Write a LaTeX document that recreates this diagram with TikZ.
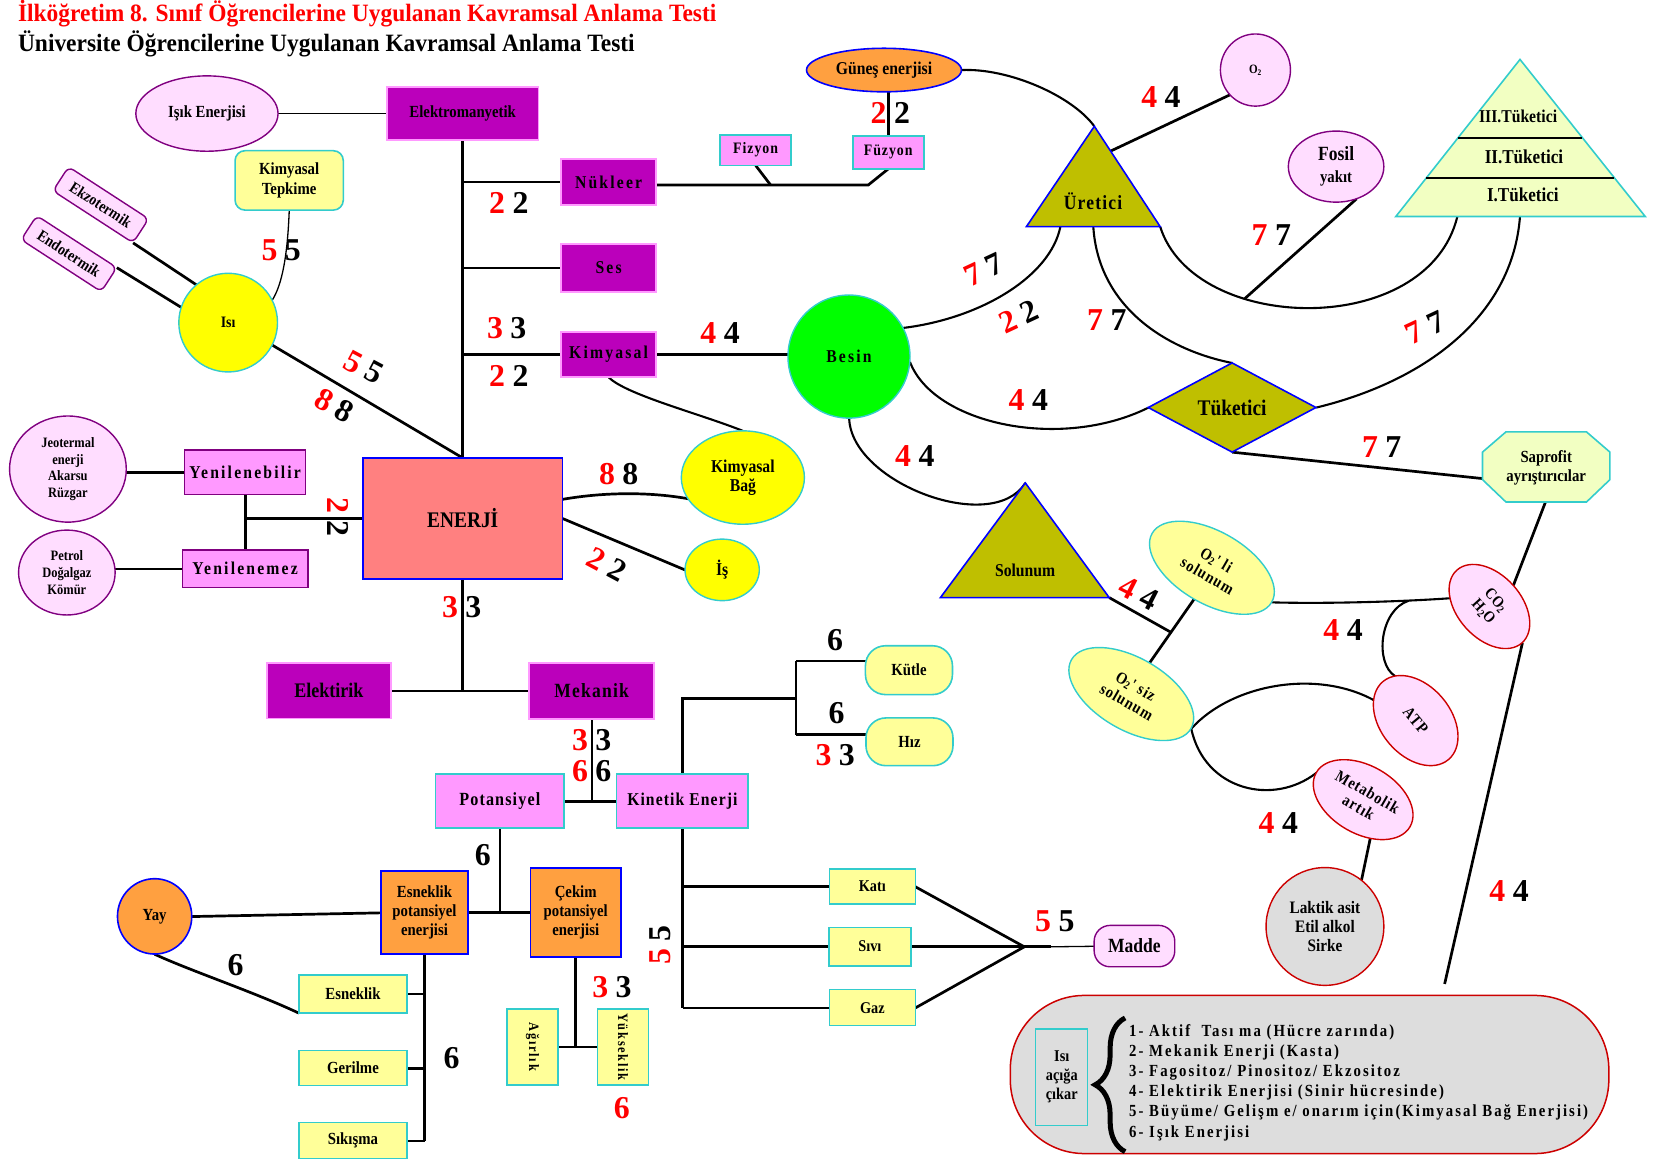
\documentclass[tikz,border=0pt]{standalone}
\usepackage{fontspec}
\setmainfont{Liberation Serif}[FakeStretch=0.87]
\newfontfamily\spc{Liberation Serif}[FakeStretch=0.87,LetterSpace=6]
\newfontfamily\spb{Liberation Serif}[FakeStretch=0.87,LetterSpace=12]
\newfontfamily\titf{Liberation Serif}[FakeStretch=0.94]
\newfontfamily\numf{Liberation Serif}
\usetikzlibrary{shapes.geometric,decorations.pathreplacing,backgrounds}
\definecolor{cPurp}{HTML}{BB00BB}
\definecolor{cPinkE}{HTML}{FF99FF}
\definecolor{cPink}{HTML}{FF99FF}
\definecolor{cTeal}{HTML}{33CCCC}
\definecolor{cLPink}{HTML}{FFDDFF}
\definecolor{cPurpE}{HTML}{800080}
\definecolor{cLYel}{HTML}{FFFF99}
\definecolor{cPale}{HTML}{F2FFC2}
\definecolor{cOlive}{HTML}{BFBF00}
\definecolor{cOrange}{HTML}{FFA040}
\definecolor{cSalmon}{HTML}{FF8080}
\definecolor{cGray}{HTML}{DDDDDD}
\definecolor{cDRed}{HTML}{CC0000}
\definecolor{cGreen}{HTML}{00FF00}
\definecolor{cBlue}{HTML}{0000FF}
\definecolor{cRed}{HTML}{FF0000}
\definecolor{cYel}{HTML}{FFFF00}
\newcommand\fz[1]{\fontsize{#1}{#1}\selectfont}
\newcommand\fzb[2]{\fontsize{#1}{#2}\selectfont}
\newcommand\np[2]{\textcolor{cRed}{#1}\hspace{7pt}#2}
\begin{document}
\begin{tikzpicture}[x=1pt,y=-1pt,scale=1.0612,
  every node/.style={transform shape, inner sep=0pt, outer sep=0pt, font=\bfseries, text=black},
  conn/.style={line width=2.7pt},
  curv/.style={line width=2.1pt},
  thinc/.style={line width=1.3pt},
  purpbox/.style={rectangle, draw=cPinkE, fill=cPurp, line width=1.8pt, font=\spb\bfseries\fz{17}},
  pinkbox/.style={rectangle, draw=cTeal, fill=cPink, line width=1.6pt, font=\spc\bfseries\fz{17}},
  pinkpbox/.style={rectangle, draw=cPurpE, fill=cPink, line width=1.6pt, font=\spb\bfseries\fz{17}},
  ylbox/.style={rectangle, draw=cTeal, fill=cLYel, line width=1.6pt, font=\bfseries\fz{15.5}},
  lpell/.style={ellipse, draw=cPurpE, fill=cLPink, line width=1.4pt},
  yell/.style={ellipse, draw=cTeal, fill=cYel, line width=1.4pt},
  lyell/.style={ellipse, draw=cTeal, fill=cLYel, line width=1.4pt},
  rpell/.style={ellipse, draw=cDRed, fill=cLPink, line width=1.4pt},
  orng/.style={draw=cBlue, fill=cOrange, line width=1.6pt},
  ekz/.style={rectangle, rounded corners=6, draw=cPurpE, fill=cLPink, line width=1.4pt, rotate=-33, minimum width=90, minimum height=27, font=\bfseries\fz{15}},
  numl/.style={font=\numf\bfseries\fz{30}},
  tri/.style={draw=cBlue, fill=cOlive, line width=1.6pt},
]
\useasboundingbox (0,0) rectangle (1568,1100);

% titles
\node[anchor=base west, font=\titf\bfseries\fz{23.5}, text=cRed] (title1) at (17,20.5) {İlköğretim 8. Sınıf Öğrencilerine Uygulanan Kavramsal Anlama Testi};
\node[anchor=base west, font=\titf\bfseries\fz{23.5}] (title2) at (17,48.5) {Üniversite Öğrencilerine Uygulanan Kavramsal Anlama Testi};

% upper left
\node[lpell, minimum width=134, minimum height=71, font=\bfseries\fz{16}] (isik) at (195,107) {Işık Enerjisi};
\node[purpbox, minimum width=143, minimum height=50, font=\bfseries\fz{16}] (elektro) at (436,107) {Elektromanyetik};
\node[ylbox, rounded corners=10, minimum width=102, minimum height=56, align=center, font=\bfseries\fzb{16}{19}] (kimtep) at (272.5,170) {Kimyasal\\Tepkime};
\node[ekz] (ekzo) at (95,193) {Ekzotermik};
\node[ekz] (endo) at (65,239) {Endotermik};
\node[yell, minimum width=93, minimum height=93, font=\bfseries\fz{15}] (isi) at (215,304) {Isı};

\node[purpbox, minimum width=90, minimum height=43] (nukleer) at (573.5,171.5) {Nükleer};
\node[purpbox, minimum width=90, minimum height=45] (ses) at (573.5,252.5) {Ses};
\node[purpbox, minimum width=90, minimum height=43] (kimyasal) at (573.5,334) {Kimyasal};
\node[pinkbox, minimum width=67, minimum height=29, font=\spc\bfseries\fz{15}] (fizyon) at (712,141.5) {Fizyon};
\node[pinkbox, minimum width=67, minimum height=31, font=\spc\bfseries\fz{15}] (fuzyon) at (837,143.5) {Füzyon};
\node[ellipse, orng, minimum width=146, minimum height=41, font=\bfseries\fz{17}] (gunes) at (833,66) {Güneş enerjisi};
\node[lpell, minimum width=66, minimum height=68, font=\bfseries\fz{12}] (o2) at (1183,66) {O\textsubscript{2}};

% Uretici triangle
\coordinate (urT) at (1031,119);
\coordinate (urL) at (967,213.5);
\coordinate (urR) at (1093,213.5);
\coordinate (urB) at (1030,213.5);
\coordinate (urBL) at (999,213.5);
\coordinate (urE) at (1046,142.5);
\filldraw[tri] (urT) -- (urR) -- (urL) -- cycle;
\node[font=\spc\bfseries\fz{19}] (uretici) at (1030,190) {Üretici};

\node[lpell, minimum width=90, minimum height=67, align=center, font=\bfseries\fzb{16}{21}] (fosil) at (1259,157) {{\fz{19}Fosil}\\yakıt};

% pyramid
\coordinate (pyT) at (1432,56);
\coordinate (pyL) at (1315,204);
\coordinate (pyR) at (1550,204);
\coordinate (pyA) at (1373,204);
\coordinate (pyB) at (1432,204);
\filldraw[draw=cTeal, fill=cPale, line width=1.6pt] (pyT) -- (pyR) -- (pyL) -- cycle;
\draw[line width=1.6pt] (1373.5,130) -- (1491,130);
\draw[line width=1.6pt] (1344,167.5) -- (1521,167.5);
\node[font=\bfseries\fz{17}] (t3) at (1430.5,109.5) {III.Tüketici};
\node[font=\bfseries\fz{18.5}] (t2) at (1436,147.5) {II.Tüketici};
\node[font=\bfseries\fz{18.5}] (t1) at (1435,184) {I.Tüketici};

\node[ellipse, draw=cTeal, fill=cGreen, line width=1.4pt, minimum width=115, minimum height=116, font=\spb\bfseries\fz{17}] (besin) at (800,336) {Besin};
\node[diamond, tri, minimum width=158, minimum height=84, font=\bfseries\fz{21}] (tuketici) at (1161,384) {Tüketici};

% Saprofit octagon
\filldraw[draw=cTeal, fill=cPale, line width=1.6pt] (1419,407) -- (1495,407) -- (1517,426) -- (1517,452) -- (1495,473) -- (1419,473) -- (1397,452) -- (1397,426) -- cycle;
\node[align=center, font=\bfseries\fzb{16}{18}] (saprofit) at (1457,441) {Saprofit\\ayrıştırıcılar};
\coordinate (spL) at (1398,451);
\coordinate (spB) at (1456,473);

% Solunum triangle
\coordinate (soT) at (966,455);
\coordinate (soL) at (886,563);
\coordinate (soR) at (1045,563);
\filldraw[tri] (soT) -- (soR) -- (soL) -- cycle;
\node[font=\bfseries\fz{17}] (solunum) at (966,537) {Solunum};

\node[lyell, rotate=-30, minimum width=130, minimum height=68, align=center, font=\spc\bfseries\fzb{15.5}{17}] (o2li) at (1142,535) {O\textsubscript{2}' li\\solunum};
\node[lyell, rotate=-30, minimum width=130, minimum height=68, align=center, font=\spc\bfseries\fzb{15.5}{17}] (o2siz) at (1066,654) {O\textsubscript{2}' siz\\solunum};
\node[rpell, rotate=-48, minimum width=92, minimum height=60, align=center, font=\bfseries\fzb{15}{16}] (co2) at (1403.5,571.5) {CO\textsubscript{2}\\H\textsubscript{2}O};
\node[rpell, rotate=-50, minimum width=96, minimum height=66, font=\spc\bfseries\fz{15.5}] (atp) at (1334,679) {ATP};
\node[rpell, rotate=-30, minimum width=102, minimum height=64, align=center, font=\spc\bfseries\fzb{15.5}{17}] (metab) at (1284.5,753.5) {Metabolik\\artık};
\node[ellipse, draw=cDRed, fill=cGray, line width=1.4pt, minimum width=111, minimum height=111, align=center, font=\bfseries\fzb{16.5}{18}] (laktik) at (1248.5,873) {Laktik asit\\Etil alkol\\Sirke};

% legend
\node[rectangle, rounded corners=74, draw=cDRed, fill=cGray, line width=1.5pt, minimum width=564, minimum height=149] (legend) at (1234,1012.5) {};
\node[rectangle, draw=cTeal, line width=1.4pt, minimum width=49, minimum height=91, align=center, font=\bfseries\fzb{15.5}{18}] (isiacik) at (1000.5,1015) {Isı\\açığa\\çıkar};
\coordinate (brB) at (1060,1085);
\coordinate (brT) at (1060,959);
\draw[decorate, decoration={brace, amplitude=30pt}, line width=5pt] (brB) -- (brT);
\node[anchor=west, align=left, font=\spb\bfseries\fzb{16}{19}] (legtext) at (1064,1020) {1- Aktif~ Tası ma (Hücre zarında)\\2- Mekanik Enerji (Kasta)\\3- Fagositoz/ Pinositoz/ Ekzositoz\\4- Elektirik Enerjisi (Sinir hücresinde)\\5- Büyüme/ Gelişm e/ onarım için(Kimyasal Bağ Enerjisi)\\6- Işık Enerjisi};

% middle left
\node[rectangle, draw=cBlue, fill=cSalmon, line width=1.6pt, minimum width=188, minimum height=114, font=\bfseries\fz{21}] (enerji) at (436,488.5) {ENERJİ};
\node[yell, minimum width=116, minimum height=88, align=center, font=\bfseries\fzb{17}{18.5}] (kimbag) at (700,450) {Kimyasal\\Bağ};
\node[yell, minimum width=70, minimum height=58, font=\bfseries\fz{17}] (is) at (680.5,537) {İş};
\node[pinkpbox, minimum width=114, minimum height=42] (yenil) at (231,445) {Yenilenebilir};
\node[pinkpbox, minimum width=118, minimum height=35] (yenem) at (231,536) {Yenilenemez};
\node[lpell, minimum width=110, minimum height=100, align=center, font=\bfseries\fzb{13.5}{15.7}] (jeo) at (64,442) {Jeotermal\\enerji\\Akarsu\\Rüzgar};
\node[lpell, minimum width=91, minimum height=80, align=center, font=\bfseries\fzb{13.5}{16.3}] (petrol) at (63,539.5) {Petrol\\Doğalgaz\\Kömür};
\node[purpbox, minimum width=117, minimum height=52, font=\bfseries\fz{19.5}] (elektirik) at (310,651) {Elektirik};
\node[purpbox, minimum width=118, minimum height=53, font=\spc\bfseries\fz{19}] (mekanik) at (557.6,651) {Mekanik};
\node[pinkbox, minimum width=121, minimum height=51, font=\spc\bfseries\fz{17.5}] (potansiyel) at (471,755) {Potansiyel};
\node[pinkbox, minimum width=124, minimum height=51, font=\spc\bfseries\fz{17}] (kinetik) at (643,755) {Kinetik Enerji};
\node[ylbox, rounded corners=20, minimum width=82, minimum height=46, font=\bfseries\fz{16}] (kutle) at (856.5,631.5) {Kütle};
\node[ylbox, rounded corners=20, minimum width=82, minimum height=45, font=\bfseries\fz{16}] (hiz) at (857,699) {Hız};
\node[ylbox, minimum width=81, minimum height=33, font=\bfseries\fz{15.5}] (kati) at (822,835.5) {Katı};
\node[ylbox, minimum width=77, minimum height=36, font=\bfseries\fz{15.5}] (sivi) at (819.7,892) {Sıvı};
\node[ylbox, minimum width=81, minimum height=34, font=\bfseries\fz{15.5}] (gaz) at (822,949.5) {Gaz};
\node[rectangle, rounded corners=16, draw=cPurpE, fill=cLPink, line width=1.4pt, minimum width=76, minimum height=39, font=\bfseries\fz{19}] (madde) at (1069,891.5) {Madde};
\node[ellipse, orng, minimum width=70, minimum height=71, font=\bfseries\fz{16}] (yay) at (145.7,863.5) {Yay};
\node[rectangle, orng, minimum width=82, minimum height=78, align=center, font=\bfseries\fzb{16}{18}] (esnpot) at (400,860) {Esneklik\\potansiyel\\enerjisi};
\node[rectangle, orng, minimum width=85, minimum height=84, align=center, font=\bfseries\fzb{16}{18}] (cekpot) at (542.5,860) {Çekim\\potansiyel\\enerjisi};
\node[ylbox, minimum width=102, minimum height=36, font=\bfseries\fz{16}] (esneklik) at (332.6,936.5) {Esneklik};
\node[ylbox, minimum width=102, minimum height=33, font=\bfseries\fz{16}] (gerilme) at (332.6,1006.4) {Gerilme};
\node[ylbox, minimum width=102, minimum height=34, font=\bfseries\fz{16}] (sikisma) at (332.6,1074.8) {Sıkışma};
\node[ylbox, rotate=-90, minimum width=72, minimum height=48, font=\spb\bfseries\fz{13.5}] (agirlik) at (501.8,986.5) {Ağırlık};
\node[ylbox, rotate=-90, minimum width=72, minimum height=48, font=\spb\bfseries\fz{13.5}] (yukseklik) at (587,986.5) {Yükseklik};

% connectors
\begin{pgfonlayer}{background}
\draw[thinc] (isik.east) -- (elektro.west);
\draw[conn] (elektro.south) -- (enerji.north);
\draw[conn] (nukleer.west) -- (nukleer.west -| elektro.south);
\draw[conn] (ses.west) -- (ses.west -| elektro.south);
\draw[conn] (kimyasal.west) -- (kimyasal.west -| elektro.south);
\coordinate (fzJ) at (726,174.3);
\coordinate (fuJ) at (818,174.3);
\draw[conn] (nukleer.east |- fzJ) -- (fuJ) -- (fuzyon.south);
\draw[conn] (fizyon.south) -- (fzJ);
\draw[conn] (fuzyon.north) -- (fuzyon.north |- gunes.south);
\draw[conn] (kimyasal.east) -- (kimyasal.east -| besin.west);
\draw[curv] (kimyasal.south) .. controls (590,372) and (660,390) .. (kimbag.north);
\draw[thinc] (kimtep.south) .. controls (271,240) and (266,268) .. (isi.27);
\draw[conn] (ekzo.south east) -- (isi.130);
\draw[conn] (endo.north east) -- (isi.162);
\draw[conn] (isi.333) -- (enerji.north);
\coordinate (eK) at (527,471);
\draw[conn] (eK) .. controls (565,464) and (610,463) .. (kimbag.201);
\draw[conn] (enerji.east) -- (is.west);
\draw[conn] (yenil.west) -- (yenil.west -| jeo.east);
\draw[conn] (yenem.west) -- (yenem.west -| petrol.east);
\draw[conn] (yenil.south) -- (yenem.north);
\draw[conn] (enerji.west) -- (enerji.west -| yenil.south);
\draw[conn] (enerji.south) -- (enerji.south |- mekanik.west);
\draw[conn] (elektirik.east) -- (mekanik.west);
\draw[conn] (mekanik.south) -- (mekanik.south |- kinetik.west);
\draw[conn] (potansiyel.east) -- (kinetik.west);
\coordinate (kJ) at (750,658);
\coordinate (k1) at (750,622.6);
\coordinate (k2) at (750,692);
\draw[conn] (kinetik.north) |- (kJ);
\draw[conn] (k1) -- (k2);
\draw[conn] (k1) -- (k1 -| kutle.west);
\draw[conn] (k2) -- (k2 -| hiz.west);
\draw[conn] (kinetik.south) -- (kinetik.south |- gaz.west);
\draw[conn] (kati.west) -- (kati.west -| kinetik.south);
\draw[conn] (sivi.west) -- (sivi.west -| kinetik.south);
\draw[conn] (gaz.west) -- (gaz.west -| kinetik.south);
\coordinate (mJ) at (965,892);
\coordinate (mT) at (990,892);
\draw[conn] (kati.east) -- (mJ);
\draw[conn] (sivi.east) -- (mJ);
\draw[conn] (gaz.east) -- (mJ);
\draw[conn] (mJ) -- (mT);
\draw[thinc] (mT) -- (madde.west);
\draw[conn] (potansiyel.south) -- (potansiyel.south |- esnpot.east);
\draw[conn] (yay.east) -- (esnpot.west);
\draw[conn] (esnpot.east) -- (cekpot.west);
\draw[conn] (yay.south) .. controls (180,915) and (240,935) .. (esneklik.south west);
\draw[conn] (esnpot.south) -- (esnpot.south |- sikisma.east);
\draw[conn] (esneklik.east) -- (esneklik.east -| esnpot.south);
\draw[conn] (gerilme.east) -- (gerilme.east -| esnpot.south);
\draw[conn] (sikisma.east) -- (sikisma.east -| esnpot.south);
\draw[conn] (cekpot.south) -- (cekpot.south |- agirlik.center);
\draw[conn] (agirlik.north) -- (yukseklik.south);
% ecosystem part
\draw[curv] (gunes.east) .. controls (950,64) and (1010,90) .. (urT);
\draw[conn] (urE) -- (o2.224);
\draw[curv] (urR) .. controls (1125,315) and (1345,320) .. (pyA);
\coordinate (fJ) at (1172.4,281.6);
\draw[conn] (fosil.-58) -- (fJ);
\draw[curv] (urB) .. controls (1035,290) and (1100,330) .. (tuketici.north);
\draw[curv] (urBL) .. controls (990,260) and (925,300) .. (besin.28);
\draw[curv] (pyB) .. controls (1425,300) and (1340,360) .. (tuketici.east);
\draw[curv] (besin.-5) .. controls (880,400) and (1000,425) .. (tuketici.west);
\draw[curv] (besin.south) .. controls (802,455) and (935,505) .. (soT);
\draw[conn] (tuketici.south) -- (spL);
\draw[conn] (spB) -- (co2.north);
\coordinate (cEnd) at (1361,927);
\draw[conn] (co2.east) -- (cEnd);
\draw[conn] (o2li.south) -- coordinate[pos=0.52] (sj) (o2siz.north);
\draw[conn] (soR) -- (sj);
\coordinate (aj) at (1327,566);
\draw[curv] (o2li.east) .. controls (1250,569) and (1320,567) .. (co2.216);
\draw[curv] (aj) .. controls (1300,575) and (1295,625) .. (atp.165);
\draw[curv] (o2siz.east) .. controls (1160,645) and (1240,630) .. (atp.204);
\draw[curv] (o2siz.east) .. controls (1135,745) and (1200,760) .. (metab.west);
\draw[conn] (metab.310) -- (laktik.52);
\end{pgfonlayer}

% number labels
\node[numl] (n1) at (479.5,191) {\np22};
\node[numl] (n2) at (477.5,309) {\np33};
\node[numl] (n3) at (479.5,354) {\np22};
\node[numl] (n4) at (265,236) {\np55};
\node[numl, rotate=-28] (n5) at (343,346) {\np55};
\node[numl, rotate=-28] (n6) at (315,382) {\np88};
\node[numl, rotate=-90] (n7) at (318.8,487) {\np22};
\node[numl] (n8) at (583,447) {\np88};
\node[numl, rotate=-28] (n9) at (572,532) {\np22};
\node[numl] (n10) at (435,572) {\np33};
\node[numl] (n11) at (678.5,314) {\np44};
\node[numl] (n12) at (839,106.8) {\np22};
\node[numl] (n13) at (1094,91) {\np44};
\node[numl] (n14) at (1198,221.5) {\np77};
\node[numl, rotate=25] (n15) at (927,254) {\np77};
\node[numl, rotate=25] (n16) at (960,298) {\np22};
\node[numl] (n17) at (1043,301.5) {\np77};
\node[numl, rotate=25] (n18) at (1343,309) {\np77};
\node[numl] (n19) at (969,377) {\np44};
\node[numl] (n20) at (1302,421) {\np77};
\node[numl] (n21) at (862,430) {\np44};
\node[numl, rotate=-27] (n22) at (1073,559) {\np44};
\node[numl] (n23) at (1265.6,593.7) {\np44};
\node[numl] (n24) at (1204.6,776) {\np44};
\node[numl] (n25) at (1422,840) {\np44};
\node[numl] (n26) at (557.6,697) {\np33};
\node[numl] (n27) at (557.6,727) {\np66};
\node[numl] (n28) at (787,603) {6};
\node[numl] (n29) at (788.4,672) {6};
\node[numl] (n30) at (787,711.5) {\np33};
\node[numl, rotate=90] (n31) at (622,890.5) {\np55};
\node[numl] (n32) at (994,868.5) {\np55};
\node[numl] (n33) at (455,805.7) {6};
\node[numl] (n34) at (222,909.4) {6};
\node[numl] (n35) at (425.5,997.3) {6};
\node[numl] (n36) at (576.7,929.8) {\np33};
\node[numl, text=cRed] (n37) at (586,1044.4) {6};
\end{tikzpicture}
\end{document}
